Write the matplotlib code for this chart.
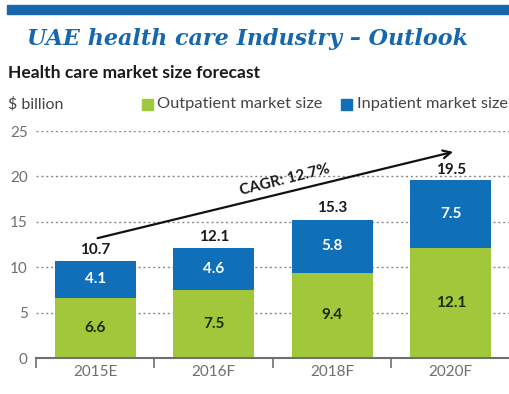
import matplotlib.pyplot as plt
from matplotlib.patches import Rectangle

categories = ["2015E", "2016F", "2018F", "2020F"]
outpatient = [6.6, 7.5, 9.4, 12.1]
inpatient = [4.1, 4.6, 5.8, 7.5]
totals = [10.7, 12.1, 15.3, 19.5]
yticks = [0, 5, 10, 15, 20, 25]

GREEN = "#a0c83a"
BLUE = "#0f6fb8"
TITLE_BLUE = "#1667ad"
GRAY = "#6f6f6f"

plt.rcParams['font.family'] = ['Lato', 'DejaVu Sans']

W, H = 510, 394
fig = plt.figure(figsize=(W / 100, H / 100), dpi=100)

def fx(px):
    return px / W

def fy(py):
    return 1 - py / H

# top band
fig.patches.append(Rectangle((fx(7), fy(14)), fx(510) - fx(7), fy(5) - fy(14),
                             transform=fig.transFigure, color=TITLE_BLUE, zorder=0))

fig.text(fx(27), fy(39), "UAE health care Industry \u2013 Outlook", family="DejaVu Serif",
         fontweight="bold", style="italic", fontsize=16, color=TITLE_BLUE, va="center", ha="left")
fig.text(fx(8), fy(73), "Health care market size forecast", fontweight="bold",
         fontsize=12.6, color="#1a1a1a", va="center", ha="left")
fig.text(fx(8), fy(104), "$ billion", fontsize=11.5, color="#444444", va="center", ha="left")

# legend
fig.patches.append(Rectangle((fx(142), fy(110)), fx(11), fy(99) - fy(110),
                             transform=fig.transFigure, color=GREEN))
fig.text(fx(157), fy(104), "Outpatient market size", fontsize=11.8, color="#444444", va="center", ha="left")
fig.patches.append(Rectangle((fx(341), fy(110)), fx(11), fy(99) - fy(110),
                             transform=fig.transFigure, color=BLUE))
fig.text(fx(357), fy(104), "Inpatient market size", fontsize=11.8, color="#444444", va="center", ha="left")

ax = fig.add_axes([fx(36), fy(358), fx(510) - fx(36), fy(131) - fy(358)])
x = list(range(len(categories)))
ax.bar(x, outpatient, width=0.68, color=GREEN, zorder=3)
ax.bar(x, inpatient, width=0.68, bottom=outpatient, color=BLUE, zorder=3)

for i in x:
    ax.text(i, outpatient[i] / 2, f"{outpatient[i]}", ha="center", va="center",
            fontsize=11, fontweight="bold", color="#1e2a10", zorder=4)
    ax.text(i, outpatient[i] + inpatient[i] / 2, f"{inpatient[i]}", ha="center", va="center",
            fontsize=11, fontweight="bold", color="white", zorder=4)
    ax.text(i, totals[i] + 0.45, f"{totals[i]}", ha="center", va="bottom",
            fontsize=11, fontweight="bold", color="#1a1a1a", zorder=4)

ax.set_xlim(-0.5, 3.5)
ax.set_ylim(0, 25)
ax.set_yticks(yticks)
ax.set_yticklabels([str(v) for v in yticks])
ax.tick_params(axis="y", length=0, pad=6, labelsize=11, labelcolor=GRAY)
ax.set_xticks(x)
ax.set_xticklabels(categories)
ax.tick_params(axis="x", length=0, pad=5, labelsize=11, labelcolor=GRAY)
ax.set_xticks([-0.5, 0.5, 1.5, 2.5, 3.5], minor=True)
ax.tick_params(axis="x", which="minor", length=7, width=1.2, color=GRAY, direction="out")

for s in ["top", "right", "left"]:
    ax.spines[s].set_visible(False)
ax.spines["bottom"].set_color(GRAY)
ax.spines["bottom"].set_linewidth(1.5)
ax.spines["bottom"].set_zorder(5)

ax.yaxis.grid(True, linestyle=(0, (1.5, 2)), color="#8a8a8a", linewidth=1.0, zorder=0)
ax.set_axisbelow(True)

# CAGR arrow
ax.annotate("", xy=(3.02, 22.7), xytext=(0.02, 13.2),
            arrowprops=dict(arrowstyle="->", color="#111111", lw=1.6,
                            mutation_scale=14, shrinkA=0, shrinkB=0), zorder=6)
ax.text(1.6, 19.6, "CAGR: 12.7%", rotation=14, ha="center", va="center",
        fontsize=11, fontweight="bold", color="#1a1a1a", rotation_mode="anchor")

fig.savefig("out.png", dpi=100, facecolor="white")
